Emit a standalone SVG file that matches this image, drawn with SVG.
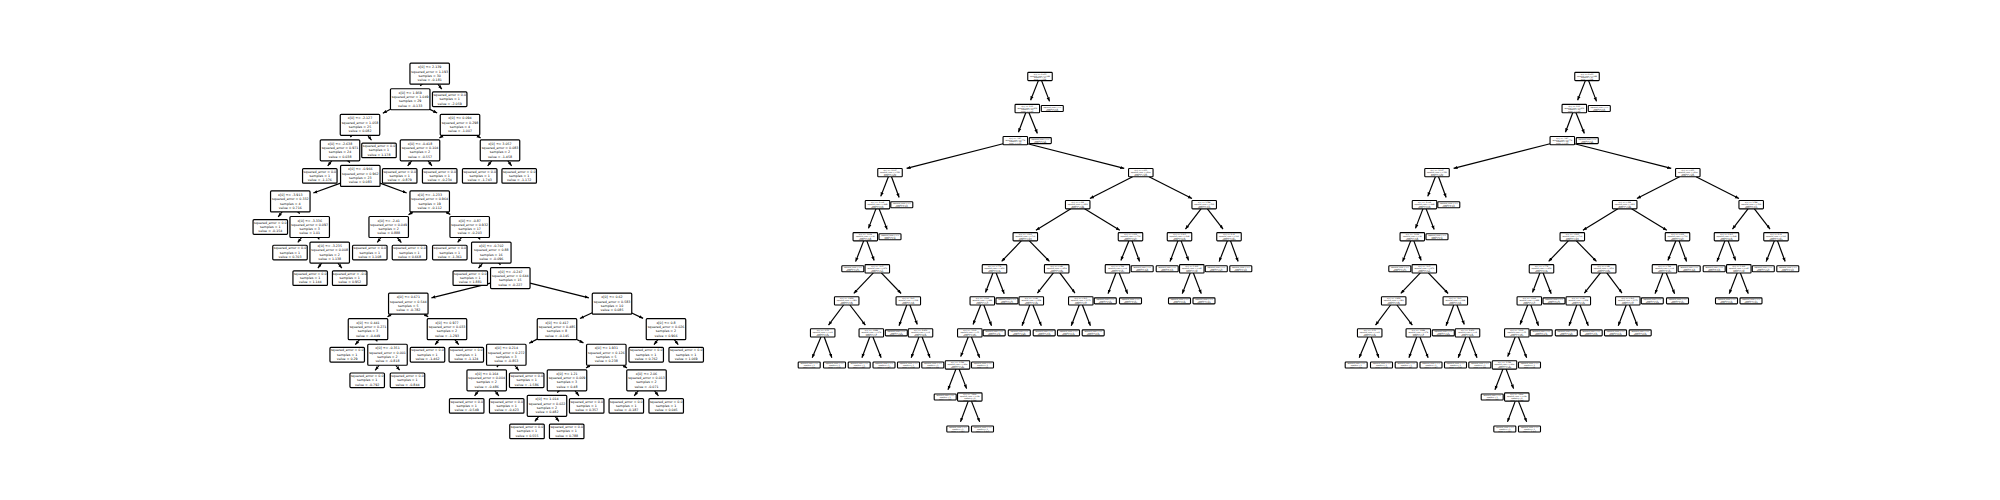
<svg xmlns="http://www.w3.org/2000/svg" xmlns:xlink="http://www.w3.org/1999/xlink" width="2000" height="500" viewBox="0 0 2000 500">
<defs>
<style>
.n text{font-family:"DejaVu Sans","Liberation Sans",sans-serif;font-size:3.25px;text-anchor:middle;dominant-baseline:central;fill:#000}
.s text{font-family:"DejaVu Sans","Liberation Sans",sans-serif;font-size:1.75px;text-anchor:middle;dominant-baseline:central;fill:#000}
.edges line{stroke:#000;stroke-width:1.2;fill:none;marker-end:url(#ah)}
</style>
<marker id="ah" viewBox="0 0 4 4" refX="4" refY="2" markerWidth="4" markerHeight="4" markerUnits="userSpaceOnUse" orient="auto"><path d="M0,0.4 L4,2 L0,3.6 z" fill="#000"/></marker>
<rect id="bi" x="-19.75" y="-10.5" width="39.5" height="21" rx="1" fill="#fff" stroke="#000" stroke-width="1.2"/>
<rect id="bl" x="-17.25" y="-7.3" width="34.5" height="14.6" rx="1" fill="#fff" stroke="#000" stroke-width="1.2"/>
<rect id="si" x="-12.25" y="-4.15" width="24.5" height="8.3" rx="0.8" fill="#fff" stroke="#000" stroke-width="1.1"/>
<rect id="sl" x="-11" y="-3" width="22" height="6" rx="0.8" fill="#fff" stroke="#000" stroke-width="1.1"/>
</defs>
<rect width="2000" height="500" fill="#fff"/>

<g id="tree1">
<g id="tree1-edges" class="edges">
<line x1="421.7" y1="84.2" x2="420.3" y2="85.96"/>
<line x1="437.9" y1="84.2" x2="441.8" y2="89.2"/>
<line x1="390.45" y1="109.29" x2="382.84" y2="113.17"/>
<line x1="429.95" y1="109.38" x2="437.14" y2="113.07"/>
<line x1="351.78" y1="135.3" x2="350.38" y2="137.09"/>
<line x1="367.81" y1="135.3" x2="371.48" y2="140.24"/>
<line x1="443.56" y1="135.3" x2="439.4" y2="137.96"/>
<line x1="476.44" y1="135.3" x2="480.6" y2="137.96"/>
<line x1="331.7" y1="160.85" x2="327.74" y2="165.85"/>
<line x1="348.34" y1="160.85" x2="349.78" y2="162.66"/>
<line x1="411.66" y1="160.85" x2="407.68" y2="165.86"/>
<line x1="428.1" y1="160.85" x2="431.93" y2="165.83"/>
<line x1="491.66" y1="160.85" x2="487.68" y2="165.86"/>
<line x1="507.89" y1="160.85" x2="511.61" y2="165.8"/>
<line x1="340.55" y1="183.11" x2="313.33" y2="193.04"/>
<line x1="380.05" y1="183.17" x2="406.66" y2="192.97"/>
<line x1="282.08" y1="211.95" x2="278.17" y2="216.94"/>
<line x1="298.27" y1="211.95" x2="299.61" y2="213.71"/>
<line x1="412.85" y1="211.95" x2="408.52" y2="214.65"/>
<line x1="446.14" y1="211.95" x2="450.3" y2="214.61"/>
<line x1="301.6" y1="237.5" x2="297.77" y2="242.48"/>
<line x1="317.92" y1="237.5" x2="319.32" y2="239.29"/>
<line x1="380.93" y1="237.5" x2="377.28" y2="242.44"/>
<line x1="397.25" y1="237.5" x2="401.35" y2="242.53"/>
<line x1="461.52" y1="237.5" x2="457.63" y2="242.49"/>
<line x1="478.58" y1="237.5" x2="480.16" y2="239.38"/>
<line x1="321.69" y1="263.05" x2="317.89" y2="268.02"/>
<line x1="337.92" y1="263.05" x2="341.83" y2="268.04"/>
<line x1="482.67" y1="263.05" x2="478.52" y2="268.1"/>
<line x1="499.11" y1="263.05" x2="500.4" y2="264.79"/>
<line x1="490.55" y1="283.05" x2="431.44" y2="297.85"/>
<line x1="530.05" y1="283.06" x2="588.85" y2="297.83"/>
<line x1="391.74" y1="314.15" x2="387.52" y2="316.82"/>
<line x1="424.21" y1="314.15" x2="428.17" y2="316.77"/>
<line x1="592.25" y1="312.82" x2="579.92" y2="318.55"/>
<line x1="631.75" y1="312.99" x2="643.1" y2="318.37"/>
<line x1="359.45" y1="339.7" x2="355.35" y2="344.73"/>
<line x1="376.01" y1="339.7" x2="377.36" y2="341.47"/>
<line x1="438.99" y1="339.7" x2="435.19" y2="344.67"/>
<line x1="454.93" y1="339.7" x2="458.68" y2="344.66"/>
<line x1="537.25" y1="339.15" x2="529.18" y2="343.22"/>
<line x1="576.75" y1="339.44" x2="583.44" y2="342.9"/>
<line x1="657.86" y1="339.7" x2="654" y2="344.68"/>
<line x1="674.3" y1="339.7" x2="678.26" y2="344.7"/>
<line x1="379.16" y1="365.25" x2="375.18" y2="370.26"/>
<line x1="395.72" y1="365.25" x2="399.63" y2="370.24"/>
<line x1="498.24" y1="365.25" x2="496.89" y2="367.02"/>
<line x1="514.68" y1="365.25" x2="518.69" y2="370.27"/>
<line x1="590.15" y1="365.25" x2="586.09" y2="367.89"/>
<line x1="622.82" y1="365.25" x2="627.02" y2="367.92"/>
<line x1="478.48" y1="390.8" x2="474.57" y2="395.79"/>
<line x1="494.92" y1="390.8" x2="498.83" y2="395.79"/>
<line x1="558.78" y1="390.8" x2="557.38" y2="392.59"/>
<line x1="575.1" y1="390.8" x2="578.93" y2="395.78"/>
<line x1="638.2" y1="390.8" x2="634.24" y2="395.8"/>
<line x1="654.6" y1="390.8" x2="658.43" y2="395.78"/>
<line x1="538.78" y1="416.35" x2="534.87" y2="421.34"/>
<line x1="555.1" y1="416.35" x2="558.93" y2="421.33"/>
</g>
<g id="t1-root" class="n" transform="translate(429.7 73.7)"><use href="#bi"/><text y="-6.45">x[0] &lt;= 2.139</text><text y="-2.15">squared_error = 1.193</text><text y="2.15">samples = 30</text><text y="6.45">value = -0.181</text></g>
<g id="t1-A" class="n" transform="translate(410.2 99.25)"><use href="#bi"/><text y="-6.45">x[0] &lt;= 1.959</text><text y="-2.15">squared_error = 1.049</text><text y="2.15">samples = 29</text><text y="6.45">value = -0.133</text></g>
<g id="t1-B" class="n" transform="translate(449.7 99.25)"><use href="#bl"/><text y="-4.3">squared_error = 0.0</text><text y="0">samples = 1</text><text y="4.3">value = -2.059</text></g>
<g id="t1-C" class="n" transform="translate(360 124.8)"><use href="#bi"/><text y="-6.45">x[0] &lt;= -2.127</text><text y="-2.15">squared_error = 1.058</text><text y="2.15">samples = 25</text><text y="6.45">value = 0.082</text></g>
<g id="t1-D" class="n" transform="translate(460 124.8)"><use href="#bi"/><text y="-6.45">x[0] &lt;= 0.094</text><text y="-2.15">squared_error = 0.298</text><text y="2.15">samples = 4</text><text y="6.45">value = -1.007</text></g>
<g id="t1-E" class="n" transform="translate(340 150.35)"><use href="#bi"/><text y="-6.45">x[0] &lt;= -2.638</text><text y="-2.15">squared_error = 0.971</text><text y="2.15">samples = 24</text><text y="6.45">value = 0.038</text></g>
<g id="t1-F" class="n" transform="translate(379 150.35)"><use href="#bl"/><text y="-4.3">squared_error = 0.0</text><text y="0">samples = 1</text><text y="4.3">value = 1.178</text></g>
<g id="t1-G" class="n" transform="translate(420 150.35)"><use href="#bi"/><text y="-6.45">x[0] &lt;= -0.418</text><text y="-2.15">squared_error = 0.104</text><text y="2.15">samples = 2</text><text y="6.45">value = -0.557</text></g>
<g id="t1-H" class="n" transform="translate(500 150.35)"><use href="#bi"/><text y="-6.45">x[0] &lt;= 3.057</text><text y="-2.15">squared_error = 0.083</text><text y="2.15">samples = 2</text><text y="6.45">value = -1.458</text></g>
<g id="t1-I" class="n" transform="translate(319.8 175.9)"><use href="#bl"/><text y="-4.3">squared_error = 0.0</text><text y="0">samples = 1</text><text y="4.3">value = -1.176</text></g>
<g id="t1-J" class="n" transform="translate(360.3 175.9)"><use href="#bi"/><text y="-6.45">x[0] &lt;= -0.966</text><text y="-2.15">squared_error = 0.962</text><text y="2.15">samples = 23</text><text y="6.45">value = 0.083</text></g>
<g id="t1-K" class="n" transform="translate(399.7 175.9)"><use href="#bl"/><text y="-4.3">squared_error = 0.0</text><text y="0">samples = 1</text><text y="4.3">value = -0.879</text></g>
<g id="t1-L" class="n" transform="translate(439.7 175.9)"><use href="#bl"/><text y="-4.3">squared_error = 0.0</text><text y="0">samples = 1</text><text y="4.3">value = -0.234</text></g>
<g id="t1-M" class="n" transform="translate(479.7 175.9)"><use href="#bl"/><text y="-4.3">squared_error = 0.0</text><text y="0">samples = 1</text><text y="4.3">value = -1.743</text></g>
<g id="t1-N" class="n" transform="translate(519.2 175.9)"><use href="#bl"/><text y="-4.3">squared_error = 0.0</text><text y="0">samples = 1</text><text y="4.3">value = -1.172</text></g>
<g id="t1-O" class="n" transform="translate(290.3 201.45)"><use href="#bi"/><text y="-6.45">x[0] &lt;= -3.913</text><text y="-2.15">squared_error = 0.332</text><text y="2.15">samples = 4</text><text y="6.45">value = 0.716</text></g>
<g id="t1-P" class="n" transform="translate(429.7 201.45)"><use href="#bi"/><text y="-6.45">x[0] &lt;= -1.233</text><text y="-2.15">squared_error = 0.964</text><text y="2.15">samples = 19</text><text y="6.45">value = -0.112</text></g>
<g id="t1-Q" class="n" transform="translate(270.3 227)"><use href="#bl"/><text y="-4.3">squared_error = 0.0</text><text y="0">samples = 1</text><text y="4.3">value = -0.154</text></g>
<g id="t1-R" class="n" transform="translate(309.7 227)"><use href="#bi"/><text y="-6.45">x[0] &lt;= -3.336</text><text y="-2.15">squared_error = 0.097</text><text y="2.15">samples = 3</text><text y="6.45">value = 1.01</text></g>
<g id="t1-S" class="n" transform="translate(388.7 227)"><use href="#bi"/><text y="-6.45">x[0] &lt;= -2.41</text><text y="-2.15">squared_error = 0.049</text><text y="2.15">samples = 2</text><text y="6.45">value = 0.888</text></g>
<g id="t1-T" class="n" transform="translate(469.7 227)"><use href="#bi"/><text y="-6.45">x[0] &lt;= -0.87</text><text y="-2.15">squared_error = 0.932</text><text y="2.15">samples = 17</text><text y="6.45">value = -0.203</text></g>
<g id="t1-U" class="n" transform="translate(290 252.55)"><use href="#bl"/><text y="-4.3">squared_error = 0.0</text><text y="0">samples = 1</text><text y="4.3">value = 0.703</text></g>
<g id="t1-V" class="n" transform="translate(329.7 252.55)"><use href="#bi"/><text y="-6.45">x[0] &lt;= -3.235</text><text y="-2.15">squared_error = 0.008</text><text y="2.15">samples = 2</text><text y="6.45">value = 1.138</text></g>
<g id="t1-W" class="n" transform="translate(369.8 252.55)"><use href="#bl"/><text y="-4.3">squared_error = 0.0</text><text y="0">samples = 1</text><text y="4.3">value = 1.108</text></g>
<g id="t1-X" class="n" transform="translate(409.5 252.55)"><use href="#bl"/><text y="-4.3">squared_error = 0.0</text><text y="0">samples = 1</text><text y="4.3">value = 0.668</text></g>
<g id="t1-Y" class="n" transform="translate(449.8 252.55)"><use href="#bl"/><text y="-4.3">squared_error = 0.0</text><text y="0">samples = 1</text><text y="4.3">value = -1.361</text></g>
<g id="t1-Z" class="n" transform="translate(491.3 252.55)"><use href="#bi"/><text y="-6.45">x[0] &lt;= -0.702</text><text y="-2.15">squared_error = 0.88</text><text y="2.15">samples = 16</text><text y="6.45">value = -0.096</text></g>
<g id="t1-AA" class="n" transform="translate(310.2 278.1)"><use href="#bl"/><text y="-4.3">squared_error = 0.0</text><text y="0">samples = 1</text><text y="4.3">value = 1.144</text></g>
<g id="t1-AB" class="n" transform="translate(349.7 278.1)"><use href="#bl"/><text y="-4.3">squared_error = -0.0</text><text y="0">samples = 1</text><text y="4.3">value = 0.952</text></g>
<g id="t1-AC" class="n" transform="translate(470.3 278.1)"><use href="#bl"/><text y="-4.3">squared_error = 0.0</text><text y="0">samples = 1</text><text y="4.3">value = 1.881</text></g>
<g id="t1-AD" class="n" transform="translate(510.3 278.1)"><use href="#bi"/><text y="-6.45">x[0] &lt;= -0.247</text><text y="-2.15">squared_error = 0.644</text><text y="2.15">samples = 15</text><text y="6.45">value = -0.227</text></g>
<g id="t1-AE" class="n" transform="translate(408.3 303.65)"><use href="#bi"/><text y="-6.45">x[0] &lt;= 0.671</text><text y="-2.15">squared_error = 0.544</text><text y="2.15">samples = 5</text><text y="6.45">value = -0.782</text></g>
<g id="t1-AF" class="n" transform="translate(612 303.65)"><use href="#bi"/><text y="-6.45">x[0] &lt;= 0.62</text><text y="-2.15">squared_error = 0.583</text><text y="2.15">samples = 10</text><text y="6.45">value = 0.085</text></g>
<g id="t1-AG" class="n" transform="translate(368 329.2)"><use href="#bi"/><text y="-6.45">x[0] &lt;= 0.441</text><text y="-2.15">squared_error = 0.271</text><text y="2.15">samples = 3</text><text y="6.45">value = -0.449</text></g>
<g id="t1-AH" class="n" transform="translate(447 329.2)"><use href="#bi"/><text y="-6.45">x[0] &lt;= 0.977</text><text y="-2.15">squared_error = 0.033</text><text y="2.15">samples = 2</text><text y="6.45">value = -1.293</text></g>
<g id="t1-AI" class="n" transform="translate(557 329.2)"><use href="#bi"/><text y="-6.45">x[0] &lt;= 0.417</text><text y="-2.15">squared_error = 0.485</text><text y="2.15">samples = 8</text><text y="6.45">value = -0.145</text></g>
<g id="t1-AJ" class="n" transform="translate(666 329.2)"><use href="#bi"/><text y="-6.45">x[0] &lt;= 0.8</text><text y="-2.15">squared_error = 0.026</text><text y="2.15">samples = 2</text><text y="6.45">value = 0.966</text></g>
<g id="t1-AK" class="n" transform="translate(347.2 354.75)"><use href="#bl"/><text y="-4.3">squared_error = 0.0</text><text y="0">samples = 1</text><text y="4.3">value = 0.29</text></g>
<g id="t1-AL" class="n" transform="translate(387.5 354.75)"><use href="#bi"/><text y="-6.45">x[0] &lt;= -0.351</text><text y="-2.15">squared_error = 0.001</text><text y="2.15">samples = 2</text><text y="6.45">value = -0.818</text></g>
<g id="t1-AM" class="n" transform="translate(427.5 354.75)"><use href="#bl"/><text y="-4.3">squared_error = 0.0</text><text y="0">samples = 1</text><text y="4.3">value = -1.462</text></g>
<g id="t1-AN" class="n" transform="translate(466.3 354.75)"><use href="#bl"/><text y="-4.3">squared_error = 0.0</text><text y="0">samples = 1</text><text y="4.3">value = -1.124</text></g>
<g id="t1-AO" class="n" transform="translate(506.3 354.75)"><use href="#bi"/><text y="-6.45">x[0] &lt;= 0.214</text><text y="-2.15">squared_error = 0.272</text><text y="2.15">samples = 3</text><text y="6.45">value = -0.853</text></g>
<g id="t1-AP" class="n" transform="translate(606.3 354.75)"><use href="#bi"/><text y="-6.45">x[0] &lt;= 1.931</text><text y="-2.15">squared_error = 0.126</text><text y="2.15">samples = 5</text><text y="6.45">value = 0.238</text></g>
<g id="t1-AQ" class="n" transform="translate(646.2 354.75)"><use href="#bl"/><text y="-4.3">squared_error = 0.0</text><text y="0">samples = 1</text><text y="4.3">value = 0.762</text></g>
<g id="t1-AR" class="n" transform="translate(686.2 354.75)"><use href="#bl"/><text y="-4.3">squared_error = 0.0</text><text y="0">samples = 1</text><text y="4.3">value = 1.069</text></g>
<g id="t1-AS" class="n" transform="translate(367.2 380.3)"><use href="#bl"/><text y="-4.3">squared_error = 0.0</text><text y="0">samples = 1</text><text y="4.3">value = -0.792</text></g>
<g id="t1-AT" class="n" transform="translate(407.5 380.3)"><use href="#bl"/><text y="-4.3">squared_error = 0.0</text><text y="0">samples = 1</text><text y="4.3">value = -0.844</text></g>
<g id="t1-AU" class="n" transform="translate(486.7 380.3)"><use href="#bi"/><text y="-6.45">x[0] &lt;= 0.164</text><text y="-2.15">squared_error = 0.004</text><text y="2.15">samples = 2</text><text y="6.45">value = -0.486</text></g>
<g id="t1-AV" class="n" transform="translate(526.7 380.3)"><use href="#bl"/><text y="-4.3">squared_error = 0.0</text><text y="0">samples = 1</text><text y="4.3">value = -1.586</text></g>
<g id="t1-AW" class="n" transform="translate(567 380.3)"><use href="#bi"/><text y="-6.45">x[0] &lt;= 1.21</text><text y="-2.15">squared_error = 0.009</text><text y="2.15">samples = 3</text><text y="6.45">value = 0.48</text></g>
<g id="t1-AX" class="n" transform="translate(646.5 380.3)"><use href="#bi"/><text y="-6.45">x[0] &lt;= 2.06</text><text y="-2.15">squared_error = 0.013</text><text y="2.15">samples = 2</text><text y="6.45">value = -0.071</text></g>
<g id="t1-AY" class="n" transform="translate(466.7 405.85)"><use href="#bl"/><text y="-4.3">squared_error = 0.0</text><text y="0">samples = 1</text><text y="4.3">value = -0.549</text></g>
<g id="t1-AZ" class="n" transform="translate(506.7 405.85)"><use href="#bl"/><text y="-4.3">squared_error = 0.0</text><text y="0">samples = 1</text><text y="4.3">value = -0.423</text></g>
<g id="t1-BA" class="n" transform="translate(547 405.85)"><use href="#bi"/><text y="-6.45">x[0] &lt;= 1.014</text><text y="-2.15">squared_error = 0.022</text><text y="2.15">samples = 2</text><text y="6.45">value = 0.482</text></g>
<g id="t1-BB" class="n" transform="translate(586.7 405.85)"><use href="#bl"/><text y="-4.3">squared_error = 0.0</text><text y="0">samples = 1</text><text y="4.3">value = 0.357</text></g>
<g id="t1-BC" class="n" transform="translate(626.3 405.85)"><use href="#bl"/><text y="-4.3">squared_error = 0.0</text><text y="0">samples = 1</text><text y="4.3">value = -0.187</text></g>
<g id="t1-BD" class="n" transform="translate(666.2 405.85)"><use href="#bl"/><text y="-4.3">squared_error = 0.0</text><text y="0">samples = 1</text><text y="4.3">value = 0.045</text></g>
<g id="t1-BE" class="n" transform="translate(527 431.4)"><use href="#bl"/><text y="-4.3">squared_error = 0.0</text><text y="0">samples = 1</text><text y="4.3">value = 0.555</text></g>
<g id="t1-BF" class="n" transform="translate(566.7 431.4)"><use href="#bl"/><text y="-4.3">squared_error = 0.0</text><text y="0">samples = 1</text><text y="4.3">value = 0.788</text></g>
</g>

<g id="tree2">
<g id="tree2-edges" class="edges">
<line x1="1038.36" y1="80.65" x2="1030.6" y2="100.22"/>
<line x1="1041.59" y1="80.65" x2="1049.54" y2="101.35"/>
<line x1="1025.75" y1="112.7" x2="1018.43" y2="132.24"/>
<line x1="1028.98" y1="112.7" x2="1037.39" y2="133.43"/>
<line x1="1003.05" y1="143.73" x2="906.61" y2="168.4"/>
<line x1="1027.55" y1="143.73" x2="1124.2" y2="168.41"/>
<line x1="888.38" y1="176.8" x2="880.75" y2="196.36"/>
<line x1="891.53" y1="176.8" x2="899.14" y2="197.48"/>
<line x1="1132.63" y1="176.8" x2="1089.88" y2="198.51"/>
<line x1="1149.01" y1="176.8" x2="1191.98" y2="198.52"/>
<line x1="875.92" y1="208.85" x2="868.48" y2="228.39"/>
<line x1="879.12" y1="208.85" x2="887.2" y2="229.56"/>
<line x1="1070.91" y1="208.85" x2="1035.93" y2="230.25"/>
<line x1="1084.54" y1="208.85" x2="1119.81" y2="230.26"/>
<line x1="1201" y1="208.85" x2="1185.45" y2="229.04"/>
<line x1="1207.41" y1="208.85" x2="1223.03" y2="229.04"/>
<line x1="863.68" y1="240.9" x2="855.6" y2="261.61"/>
<line x1="866.85" y1="240.9" x2="874.17" y2="260.44"/>
<line x1="1021.31" y1="240.9" x2="1001.61" y2="261.41"/>
<line x1="1029.37" y1="240.9" x2="1049.48" y2="261.43"/>
<line x1="1128.82" y1="240.9" x2="1120.87" y2="260.48"/>
<line x1="1132.02" y1="240.9" x2="1139.56" y2="261.57"/>
<line x1="1177.91" y1="240.9" x2="1169.96" y2="261.6"/>
<line x1="1181.09" y1="240.9" x2="1188.59" y2="260.45"/>
<line x1="1227.36" y1="240.9" x2="1219.15" y2="261.62"/>
<line x1="1230.53" y1="240.9" x2="1238.14" y2="261.58"/>
<line x1="873.34" y1="272.95" x2="853.77" y2="293.44"/>
<line x1="881.31" y1="272.95" x2="901.16" y2="293.47"/>
<line x1="992.92" y1="272.95" x2="985.48" y2="292.49"/>
<line x1="996.12" y1="272.95" x2="1004.2" y2="293.66"/>
<line x1="1053.41" y1="272.95" x2="1037.38" y2="293.17"/>
<line x1="1059.82" y1="272.95" x2="1074.97" y2="293.1"/>
<line x1="1115.92" y1="272.95" x2="1108.04" y2="293.65"/>
<line x1="1119.18" y1="272.95" x2="1127.59" y2="293.68"/>
<line x1="1190.21" y1="272.95" x2="1182.26" y2="293.65"/>
<line x1="1193.38" y1="272.95" x2="1201.26" y2="293.65"/>
<line x1="843.59" y1="305" x2="828.51" y2="325.15"/>
<line x1="849.89" y1="305" x2="865.37" y2="325.18"/>
<line x1="906.75" y1="305" x2="899" y2="325.69"/>
<line x1="909.88" y1="305" x2="917.32" y2="324.54"/>
<line x1="980.68" y1="305" x2="973.05" y2="324.56"/>
<line x1="983.84" y1="305" x2="991.52" y2="325.68"/>
<line x1="1029.75" y1="305" x2="1022" y2="325.69"/>
<line x1="1032.97" y1="305" x2="1041.31" y2="325.73"/>
<line x1="1079.21" y1="305" x2="1071.26" y2="325.7"/>
<line x1="1082.41" y1="305" x2="1090.42" y2="325.7"/>
<line x1="820.95" y1="337.05" x2="812.21" y2="357.8"/>
<line x1="824.23" y1="337.05" x2="831.84" y2="357.73"/>
<line x1="869.73" y1="337.05" x2="861.92" y2="357.74"/>
<line x1="872.94" y1="337.05" x2="881.15" y2="357.77"/>
<line x1="918.95" y1="337.05" x2="911.2" y2="357.74"/>
<line x1="922.09" y1="337.05" x2="930.04" y2="357.75"/>
<line x1="968.21" y1="337.05" x2="960.71" y2="356.6"/>
<line x1="971.44" y1="337.05" x2="979.65" y2="357.77"/>
<line x1="955.91" y1="369.1" x2="947.96" y2="389.8"/>
<line x1="959.09" y1="369.1" x2="966.59" y2="388.65"/>
<line x1="968.25" y1="401.15" x2="960.5" y2="421.84"/>
<line x1="971.44" y1="401.15" x2="979.65" y2="421.87"/>
</g>
<g id="t2-n0" class="s" transform="translate(1040 76.5)"><use href="#si"/><text y="-2.55">x[0] &lt;= 2.655</text><text y="-0.85">squared_error = 0.988</text><text y="0.85">samples = 30</text><text y="2.55">value = 0.124</text></g>
<g id="t2-n1" class="s" transform="translate(1027.3 108.55)"><use href="#si"/><text y="-2.55">x[0] &lt;= 2.31</text><text y="-0.85">squared_error = 0.852</text><text y="0.85">samples = 29</text><text y="2.55">value = 0.061</text></g>
<g id="t2-n2" class="s" transform="translate(1052.3 108.55)"><use href="#sl"/><text y="-1.6">squared_error = 0.0</text><text y="0">samples = 1</text><text y="1.6">value = 1.951</text></g>
<g id="t2-n3" class="s" transform="translate(1015.3 140.6)"><use href="#si"/><text y="-2.55">x[0] &lt;= -1.87</text><text y="-0.85">squared_error = 0.774</text><text y="0.85">samples = 28</text><text y="2.55">value = 0.015</text></g>
<g id="t2-n4" class="s" transform="translate(1040.3 140.6)"><use href="#sl"/><text y="-1.6">squared_error = 0.0</text><text y="0">samples = 1</text><text y="1.6">value = 1.346</text></g>
<g id="t2-n5" class="s" transform="translate(890 172.65)"><use href="#si"/><text y="-2.55">x[0] &lt;= -2.937</text><text y="-0.85">squared_error = 0.521</text><text y="0.85">samples = 10</text><text y="2.55">value = 0.412</text></g>
<g id="t2-n6" class="s" transform="translate(1140.8 172.65)"><use href="#si"/><text y="-2.55">x[0] &lt;= 0.955</text><text y="-0.85">squared_error = 0.806</text><text y="0.85">samples = 18</text><text y="2.55">value = -0.206</text></g>
<g id="t2-n7" class="s" transform="translate(877.5 204.7)"><use href="#si"/><text y="-2.55">x[0] &lt;= -2.062</text><text y="-0.85">squared_error = 0.448</text><text y="0.85">samples = 9</text><text y="2.55">value = 0.335</text></g>
<g id="t2-n8" class="s" transform="translate(901.8 204.7)"><use href="#sl"/><text y="-1.6">squared_error = 0.0</text><text y="0">samples = 1</text><text y="1.6">value = 1.105</text></g>
<g id="t2-n9" class="s" transform="translate(1077.7 204.7)"><use href="#si"/><text y="-2.55">x[0] &lt;= 0.318</text><text y="-0.85">squared_error = 0.812</text><text y="0.85">samples = 13</text><text y="2.55">value = -0.344</text></g>
<g id="t2-n10" class="s" transform="translate(1204.2 204.7)"><use href="#si"/><text y="-2.55">x[0] &lt;= 1.584</text><text y="-0.85">squared_error = 0.512</text><text y="0.85">samples = 5</text><text y="2.55">value = 0.153</text></g>
<g id="t2-n11" class="s" transform="translate(865.3 236.75)"><use href="#si"/><text y="-2.55">x[0] &lt;= -3.614</text><text y="-0.85">squared_error = 0.39</text><text y="0.85">samples = 8</text><text y="2.55">value = 0.232</text></g>
<g id="t2-n12" class="s" transform="translate(890 236.75)"><use href="#sl"/><text y="-1.6">squared_error = 0.0</text><text y="0">samples = 1</text><text y="1.6">value = 1.16</text></g>
<g id="t2-n13" class="s" transform="translate(1025.3 236.75)"><use href="#si"/><text y="-2.55">x[0] &lt;= -0.205</text><text y="-0.85">squared_error = 0.703</text><text y="0.85">samples = 10</text><text y="2.55">value = -0.205</text></g>
<g id="t2-n14" class="s" transform="translate(1130.5 236.75)"><use href="#si"/><text y="-2.55">x[0] &lt;= 0.612</text><text y="-0.85">squared_error = 0.713</text><text y="0.85">samples = 3</text><text y="2.55">value = -0.807</text></g>
<g id="t2-n15" class="s" transform="translate(1179.5 236.75)"><use href="#si"/><text y="-2.55">x[0] &lt;= 1.205</text><text y="-0.85">squared_error = 0.268</text><text y="0.85">samples = 3</text><text y="2.55">value = 0.452</text></g>
<g id="t2-n16" class="s" transform="translate(1229 236.75)"><use href="#si"/><text y="-2.55">x[0] &lt;= 2.02</text><text y="-0.85">squared_error = 0.161</text><text y="0.85">samples = 2</text><text y="2.55">value = -0.296</text></g>
<g id="t2-n17" class="s" transform="translate(852.8 268.8)"><use href="#sl"/><text y="-1.6">squared_error = 0.0</text><text y="0">samples = 1</text><text y="1.6">value = -0.671</text></g>
<g id="t2-n18" class="s" transform="translate(877.3 268.8)"><use href="#si"/><text y="-2.55">x[0] &lt;= -3.05</text><text y="-0.85">squared_error = 0.279</text><text y="0.85">samples = 7</text><text y="2.55">value = 0.361</text></g>
<g id="t2-n19" class="s" transform="translate(994.5 268.8)"><use href="#si"/><text y="-2.55">x[0] &lt;= -0.778</text><text y="-0.85">squared_error = 0.453</text><text y="0.85">samples = 6</text><text y="2.55">value = 0.054</text></g>
<g id="t2-n20" class="s" transform="translate(1056.7 268.8)"><use href="#si"/><text y="-2.55">x[0] &lt;= 0.089</text><text y="-0.85">squared_error = 0.874</text><text y="0.85">samples = 4</text><text y="2.55">value = -0.594</text></g>
<g id="t2-n21" class="s" transform="translate(1117.5 268.8)"><use href="#si"/><text y="-2.55">x[0] &lt;= 0.784</text><text y="-0.85">squared_error = 0.04</text><text y="0.85">samples = 2</text><text y="2.55">value = -1.333</text></g>
<g id="t2-n22" class="s" transform="translate(1142.2 268.8)"><use href="#sl"/><text y="-1.6">squared_error = 0.0</text><text y="0">samples = 1</text><text y="1.6">value = 0.245</text></g>
<g id="t2-n23" class="s" transform="translate(1167.2 268.8)"><use href="#sl"/><text y="-1.6">squared_error = 0.0</text><text y="0">samples = 1</text><text y="1.6">value = 1.115</text></g>
<g id="t2-n24" class="s" transform="translate(1191.8 268.8)"><use href="#si"/><text y="-2.55">x[0] &lt;= 1.392</text><text y="-0.85">squared_error = 0.045</text><text y="0.85">samples = 2</text><text y="2.55">value = 0.12</text></g>
<g id="t2-n25" class="s" transform="translate(1216.3 268.8)"><use href="#sl"/><text y="-1.6">squared_error = 0.0</text><text y="0">samples = 1</text><text y="1.6">value = -0.697</text></g>
<g id="t2-n26" class="s" transform="translate(1240.8 268.8)"><use href="#sl"/><text y="-1.6">squared_error = 0.0</text><text y="0">samples = 1</text><text y="1.6">value = 0.105</text></g>
<g id="t2-n27" class="s" transform="translate(846.7 300.85)"><use href="#si"/><text y="-2.55">x[0] &lt;= -3.418</text><text y="-0.85">squared_error = 0.283</text><text y="0.85">samples = 4</text><text y="2.55">value = 0.512</text></g>
<g id="t2-n28" class="s" transform="translate(908.3 300.85)"><use href="#si"/><text y="-2.55">x[0] &lt;= -2.61</text><text y="-0.85">squared_error = 0.198</text><text y="0.85">samples = 3</text><text y="2.55">value = 0.159</text></g>
<g id="t2-n29" class="s" transform="translate(982.3 300.85)"><use href="#si"/><text y="-2.55">x[0] &lt;= -0.963</text><text y="-0.85">squared_error = 0.482</text><text y="0.85">samples = 5</text><text y="2.55">value = -0.07</text></g>
<g id="t2-n30" class="s" transform="translate(1007 300.85)"><use href="#sl"/><text y="-1.6">squared_error = 0.0</text><text y="0">samples = 1</text><text y="1.6">value = 0.675</text></g>
<g id="t2-n31" class="s" transform="translate(1031.3 300.85)"><use href="#si"/><text y="-2.55">x[0] &lt;= -0.049</text><text y="-0.85">squared_error = 0.218</text><text y="0.85">samples = 2</text><text y="2.55">value = -1.018</text></g>
<g id="t2-n32" class="s" transform="translate(1080.8 300.85)"><use href="#si"/><text y="-2.55">x[0] &lt;= 0.201</text><text y="-0.85">squared_error = 1.171</text><text y="0.85">samples = 2</text><text y="2.55">value = -0.17</text></g>
<g id="t2-n33" class="s" transform="translate(1105.3 300.85)"><use href="#sl"/><text y="-1.6">squared_error = 0.0</text><text y="0">samples = 1</text><text y="1.6">value = -1.534</text></g>
<g id="t2-n34" class="s" transform="translate(1130.5 300.85)"><use href="#sl"/><text y="-1.6">squared_error = 0.0</text><text y="0">samples = 1</text><text y="1.6">value = -1.133</text></g>
<g id="t2-n35" class="s" transform="translate(1179.5 300.85)"><use href="#sl"/><text y="-1.6">squared_error = 0.0</text><text y="0">samples = 1</text><text y="1.6">value = 0.332</text></g>
<g id="t2-n36" class="s" transform="translate(1204 300.85)"><use href="#sl"/><text y="-1.6">squared_error = 0.0</text><text y="0">samples = 1</text><text y="1.6">value = -0.092</text></g>
<g id="t2-n37" class="s" transform="translate(822.7 332.9)"><use href="#si"/><text y="-2.55">x[0] &lt;= -3.51</text><text y="-0.85">squared_error = 0.002</text><text y="0.85">samples = 2</text><text y="2.55">value = 0.954</text></g>
<g id="t2-n38" class="s" transform="translate(871.3 332.9)"><use href="#si"/><text y="-2.55">x[0] &lt;= -3.284</text><text y="-0.85">squared_error = 0.174</text><text y="0.85">samples = 2</text><text y="2.55">value = 0.07</text></g>
<g id="t2-n39" class="s" transform="translate(896.3 332.9)"><use href="#sl"/><text y="-1.6">squared_error = 0.0</text><text y="0">samples = 1</text><text y="1.6">value = -0.434</text></g>
<g id="t2-n40" class="s" transform="translate(920.5 332.9)"><use href="#si"/><text y="-2.55">x[0] &lt;= -2.453</text><text y="-0.85">squared_error = 0.02</text><text y="0.85">samples = 2</text><text y="2.55">value = 0.456</text></g>
<g id="t2-n41" class="s" transform="translate(969.8 332.9)"><use href="#si"/><text y="-2.55">x[0] &lt;= -1.301</text><text y="-0.85">squared_error = 0.55</text><text y="0.85">samples = 4</text><text y="2.55">value = -0.256</text></g>
<g id="t2-n42" class="s" transform="translate(994.2 332.9)"><use href="#sl"/><text y="-1.6">squared_error = 0.0</text><text y="0">samples = 1</text><text y="1.6">value = 0.674</text></g>
<g id="t2-n43" class="s" transform="translate(1019.3 332.9)"><use href="#sl"/><text y="-1.6">squared_error = 0.0</text><text y="0">samples = 1</text><text y="1.6">value = -1.485</text></g>
<g id="t2-n44" class="s" transform="translate(1044.2 332.9)"><use href="#sl"/><text y="-1.6">squared_error = 0.0</text><text y="0">samples = 1</text><text y="1.6">value = -0.551</text></g>
<g id="t2-n45" class="s" transform="translate(1068.5 332.9)"><use href="#sl"/><text y="-1.6">squared_error = 0.0</text><text y="0">samples = 1</text><text y="1.6">value = 0.912</text></g>
<g id="t2-n46" class="s" transform="translate(1093.2 332.9)"><use href="#sl"/><text y="-1.6">squared_error = 0.0</text><text y="0">samples = 1</text><text y="1.6">value = -1.252</text></g>
<g id="t2-n47" class="s" transform="translate(809.2 364.95)"><use href="#sl"/><text y="-1.6">squared_error = 0.0</text><text y="0">samples = 1</text><text y="1.6">value = 0.996</text></g>
<g id="t2-n48" class="s" transform="translate(834.5 364.95)"><use href="#sl"/><text y="-1.6">squared_error = 0.0</text><text y="0">samples = 1</text><text y="1.6">value = 0.912</text></g>
<g id="t2-n49" class="s" transform="translate(859.2 364.95)"><use href="#sl"/><text y="-1.6">squared_error = 0.0</text><text y="0">samples = 1</text><text y="1.6">value = 0.487</text></g>
<g id="t2-n50" class="s" transform="translate(884 364.95)"><use href="#sl"/><text y="-1.6">squared_error = 0.0</text><text y="0">samples = 1</text><text y="1.6">value = -0.347</text></g>
<g id="t2-n51" class="s" transform="translate(908.5 364.95)"><use href="#sl"/><text y="-1.6">squared_error = 0.0</text><text y="0">samples = 1</text><text y="1.6">value = 0.598</text></g>
<g id="t2-n52" class="s" transform="translate(932.8 364.95)"><use href="#sl"/><text y="-1.6">squared_error = 0.0</text><text y="0">samples = 1</text><text y="1.6">value = 0.314</text></g>
<g id="t2-n53" class="s" transform="translate(957.5 364.95)"><use href="#si"/><text y="-2.55">x[0] &lt;= -1.589</text><text y="-0.85">squared_error = 0.496</text><text y="0.85">samples = 3</text><text y="2.55">value = -0.648</text></g>
<g id="t2-n54" class="s" transform="translate(982.5 364.95)"><use href="#sl"/><text y="-1.6">squared_error = 0.0</text><text y="0">samples = 1</text><text y="1.6">value = 0.92</text></g>
<g id="t2-n55" class="s" transform="translate(945.2 397)"><use href="#sl"/><text y="-1.6">squared_error = 0.0</text><text y="0">samples = 1</text><text y="1.6">value = 0.343</text></g>
<g id="t2-n56" class="s" transform="translate(969.8 397)"><use href="#si"/><text y="-2.55">x[0] &lt;= -1.466</text><text y="-0.85">squared_error = 0.026</text><text y="0.85">samples = 2</text><text y="2.55">value = -1.144</text></g>
<g id="t2-n57" class="s" transform="translate(957.8 429.05)"><use href="#sl"/><text y="-1.6">squared_error = 0.0</text><text y="0">samples = 1</text><text y="1.6">value = -0.983</text></g>
<g id="t2-n58" class="s" transform="translate(982.5 429.05)"><use href="#sl"/><text y="-1.6">squared_error = 0.0</text><text y="0">samples = 1</text><text y="1.6">value = -1.305</text></g>
</g>

<g id="tree3" transform="translate(547 0)">
<g id="tree3-edges" class="edges">
<line x1="1038.36" y1="80.65" x2="1030.6" y2="100.22"/>
<line x1="1041.59" y1="80.65" x2="1049.54" y2="101.35"/>
<line x1="1025.75" y1="112.7" x2="1018.43" y2="132.24"/>
<line x1="1028.98" y1="112.7" x2="1037.39" y2="133.43"/>
<line x1="1003.05" y1="143.73" x2="906.61" y2="168.4"/>
<line x1="1027.55" y1="143.73" x2="1124.2" y2="168.41"/>
<line x1="888.38" y1="176.8" x2="880.75" y2="196.36"/>
<line x1="891.53" y1="176.8" x2="899.14" y2="197.48"/>
<line x1="1132.63" y1="176.8" x2="1089.88" y2="198.51"/>
<line x1="1149.01" y1="176.8" x2="1191.98" y2="198.52"/>
<line x1="875.92" y1="208.85" x2="868.48" y2="228.39"/>
<line x1="879.12" y1="208.85" x2="887.2" y2="229.56"/>
<line x1="1070.91" y1="208.85" x2="1035.93" y2="230.25"/>
<line x1="1084.54" y1="208.85" x2="1119.81" y2="230.26"/>
<line x1="1201" y1="208.85" x2="1185.45" y2="229.04"/>
<line x1="1207.41" y1="208.85" x2="1223.03" y2="229.04"/>
<line x1="863.68" y1="240.9" x2="855.6" y2="261.61"/>
<line x1="866.85" y1="240.9" x2="874.17" y2="260.44"/>
<line x1="1021.31" y1="240.9" x2="1001.61" y2="261.41"/>
<line x1="1029.37" y1="240.9" x2="1049.48" y2="261.43"/>
<line x1="1128.82" y1="240.9" x2="1120.87" y2="260.48"/>
<line x1="1132.02" y1="240.9" x2="1139.56" y2="261.57"/>
<line x1="1177.91" y1="240.9" x2="1169.96" y2="261.6"/>
<line x1="1181.09" y1="240.9" x2="1188.59" y2="260.45"/>
<line x1="1227.36" y1="240.9" x2="1219.15" y2="261.62"/>
<line x1="1230.53" y1="240.9" x2="1238.14" y2="261.58"/>
<line x1="873.34" y1="272.95" x2="853.77" y2="293.44"/>
<line x1="881.31" y1="272.95" x2="901.16" y2="293.47"/>
<line x1="992.92" y1="272.95" x2="985.48" y2="292.49"/>
<line x1="996.12" y1="272.95" x2="1004.2" y2="293.66"/>
<line x1="1053.41" y1="272.95" x2="1037.38" y2="293.17"/>
<line x1="1059.82" y1="272.95" x2="1074.97" y2="293.1"/>
<line x1="1115.92" y1="272.95" x2="1108.04" y2="293.65"/>
<line x1="1119.18" y1="272.95" x2="1127.59" y2="293.68"/>
<line x1="1190.21" y1="272.95" x2="1182.26" y2="293.65"/>
<line x1="1193.38" y1="272.95" x2="1201.26" y2="293.65"/>
<line x1="843.59" y1="305" x2="828.51" y2="325.15"/>
<line x1="849.89" y1="305" x2="865.37" y2="325.18"/>
<line x1="906.75" y1="305" x2="899" y2="325.69"/>
<line x1="909.88" y1="305" x2="917.32" y2="324.54"/>
<line x1="980.68" y1="305" x2="973.05" y2="324.56"/>
<line x1="983.84" y1="305" x2="991.52" y2="325.68"/>
<line x1="1029.75" y1="305" x2="1022" y2="325.69"/>
<line x1="1032.97" y1="305" x2="1041.31" y2="325.73"/>
<line x1="1079.21" y1="305" x2="1071.26" y2="325.7"/>
<line x1="1082.41" y1="305" x2="1090.42" y2="325.7"/>
<line x1="820.95" y1="337.05" x2="812.21" y2="357.8"/>
<line x1="824.23" y1="337.05" x2="831.84" y2="357.73"/>
<line x1="869.73" y1="337.05" x2="861.92" y2="357.74"/>
<line x1="872.94" y1="337.05" x2="881.15" y2="357.77"/>
<line x1="918.95" y1="337.05" x2="911.2" y2="357.74"/>
<line x1="922.09" y1="337.05" x2="930.04" y2="357.75"/>
<line x1="968.21" y1="337.05" x2="960.71" y2="356.6"/>
<line x1="971.44" y1="337.05" x2="979.65" y2="357.77"/>
<line x1="955.91" y1="369.1" x2="947.96" y2="389.8"/>
<line x1="959.09" y1="369.1" x2="966.59" y2="388.65"/>
<line x1="968.25" y1="401.15" x2="960.5" y2="421.84"/>
<line x1="971.44" y1="401.15" x2="979.65" y2="421.87"/>
</g>
<g id="t3-n0" class="s" transform="translate(1040 76.5)"><use href="#si"/><text y="-2.55">x[0] &lt;= 2.655</text><text y="-0.85">squared_error = 0.988</text><text y="0.85">samples = 30</text><text y="2.55">value = 0.124</text></g>
<g id="t3-n1" class="s" transform="translate(1027.3 108.55)"><use href="#si"/><text y="-2.55">x[0] &lt;= 2.31</text><text y="-0.85">squared_error = 0.852</text><text y="0.85">samples = 29</text><text y="2.55">value = 0.061</text></g>
<g id="t3-n2" class="s" transform="translate(1052.3 108.55)"><use href="#sl"/><text y="-1.6">squared_error = 0.0</text><text y="0">samples = 1</text><text y="1.6">value = 1.951</text></g>
<g id="t3-n3" class="s" transform="translate(1015.3 140.6)"><use href="#si"/><text y="-2.55">x[0] &lt;= -1.87</text><text y="-0.85">squared_error = 0.774</text><text y="0.85">samples = 28</text><text y="2.55">value = 0.015</text></g>
<g id="t3-n4" class="s" transform="translate(1040.3 140.6)"><use href="#sl"/><text y="-1.6">squared_error = 0.0</text><text y="0">samples = 1</text><text y="1.6">value = 1.346</text></g>
<g id="t3-n5" class="s" transform="translate(890 172.65)"><use href="#si"/><text y="-2.55">x[0] &lt;= -2.937</text><text y="-0.85">squared_error = 0.521</text><text y="0.85">samples = 10</text><text y="2.55">value = 0.412</text></g>
<g id="t3-n6" class="s" transform="translate(1140.8 172.65)"><use href="#si"/><text y="-2.55">x[0] &lt;= 0.955</text><text y="-0.85">squared_error = 0.806</text><text y="0.85">samples = 18</text><text y="2.55">value = -0.206</text></g>
<g id="t3-n7" class="s" transform="translate(877.5 204.7)"><use href="#si"/><text y="-2.55">x[0] &lt;= -2.062</text><text y="-0.85">squared_error = 0.448</text><text y="0.85">samples = 9</text><text y="2.55">value = 0.335</text></g>
<g id="t3-n8" class="s" transform="translate(901.8 204.7)"><use href="#sl"/><text y="-1.6">squared_error = 0.0</text><text y="0">samples = 1</text><text y="1.6">value = 1.105</text></g>
<g id="t3-n9" class="s" transform="translate(1077.7 204.7)"><use href="#si"/><text y="-2.55">x[0] &lt;= 0.318</text><text y="-0.85">squared_error = 0.812</text><text y="0.85">samples = 13</text><text y="2.55">value = -0.344</text></g>
<g id="t3-n10" class="s" transform="translate(1204.2 204.7)"><use href="#si"/><text y="-2.55">x[0] &lt;= 1.584</text><text y="-0.85">squared_error = 0.512</text><text y="0.85">samples = 5</text><text y="2.55">value = 0.153</text></g>
<g id="t3-n11" class="s" transform="translate(865.3 236.75)"><use href="#si"/><text y="-2.55">x[0] &lt;= -3.614</text><text y="-0.85">squared_error = 0.39</text><text y="0.85">samples = 8</text><text y="2.55">value = 0.232</text></g>
<g id="t3-n12" class="s" transform="translate(890 236.75)"><use href="#sl"/><text y="-1.6">squared_error = 0.0</text><text y="0">samples = 1</text><text y="1.6">value = 1.16</text></g>
<g id="t3-n13" class="s" transform="translate(1025.3 236.75)"><use href="#si"/><text y="-2.55">x[0] &lt;= -0.205</text><text y="-0.85">squared_error = 0.703</text><text y="0.85">samples = 10</text><text y="2.55">value = -0.205</text></g>
<g id="t3-n14" class="s" transform="translate(1130.5 236.75)"><use href="#si"/><text y="-2.55">x[0] &lt;= 0.612</text><text y="-0.85">squared_error = 0.713</text><text y="0.85">samples = 3</text><text y="2.55">value = -0.807</text></g>
<g id="t3-n15" class="s" transform="translate(1179.5 236.75)"><use href="#si"/><text y="-2.55">x[0] &lt;= 1.205</text><text y="-0.85">squared_error = 0.268</text><text y="0.85">samples = 3</text><text y="2.55">value = 0.452</text></g>
<g id="t3-n16" class="s" transform="translate(1229 236.75)"><use href="#si"/><text y="-2.55">x[0] &lt;= 2.02</text><text y="-0.85">squared_error = 0.161</text><text y="0.85">samples = 2</text><text y="2.55">value = -0.296</text></g>
<g id="t3-n17" class="s" transform="translate(852.8 268.8)"><use href="#sl"/><text y="-1.6">squared_error = 0.0</text><text y="0">samples = 1</text><text y="1.6">value = -0.671</text></g>
<g id="t3-n18" class="s" transform="translate(877.3 268.8)"><use href="#si"/><text y="-2.55">x[0] &lt;= -3.05</text><text y="-0.85">squared_error = 0.279</text><text y="0.85">samples = 7</text><text y="2.55">value = 0.361</text></g>
<g id="t3-n19" class="s" transform="translate(994.5 268.8)"><use href="#si"/><text y="-2.55">x[0] &lt;= -0.778</text><text y="-0.85">squared_error = 0.453</text><text y="0.85">samples = 6</text><text y="2.55">value = 0.054</text></g>
<g id="t3-n20" class="s" transform="translate(1056.7 268.8)"><use href="#si"/><text y="-2.55">x[0] &lt;= 0.089</text><text y="-0.85">squared_error = 0.874</text><text y="0.85">samples = 4</text><text y="2.55">value = -0.594</text></g>
<g id="t3-n21" class="s" transform="translate(1117.5 268.8)"><use href="#si"/><text y="-2.55">x[0] &lt;= 0.784</text><text y="-0.85">squared_error = 0.04</text><text y="0.85">samples = 2</text><text y="2.55">value = -1.333</text></g>
<g id="t3-n22" class="s" transform="translate(1142.2 268.8)"><use href="#sl"/><text y="-1.6">squared_error = 0.0</text><text y="0">samples = 1</text><text y="1.6">value = 0.245</text></g>
<g id="t3-n23" class="s" transform="translate(1167.2 268.8)"><use href="#sl"/><text y="-1.6">squared_error = 0.0</text><text y="0">samples = 1</text><text y="1.6">value = 1.115</text></g>
<g id="t3-n24" class="s" transform="translate(1191.8 268.8)"><use href="#si"/><text y="-2.55">x[0] &lt;= 1.392</text><text y="-0.85">squared_error = 0.045</text><text y="0.85">samples = 2</text><text y="2.55">value = 0.12</text></g>
<g id="t3-n25" class="s" transform="translate(1216.3 268.8)"><use href="#sl"/><text y="-1.6">squared_error = 0.0</text><text y="0">samples = 1</text><text y="1.6">value = -0.697</text></g>
<g id="t3-n26" class="s" transform="translate(1240.8 268.8)"><use href="#sl"/><text y="-1.6">squared_error = 0.0</text><text y="0">samples = 1</text><text y="1.6">value = 0.105</text></g>
<g id="t3-n27" class="s" transform="translate(846.7 300.85)"><use href="#si"/><text y="-2.55">x[0] &lt;= -3.418</text><text y="-0.85">squared_error = 0.283</text><text y="0.85">samples = 4</text><text y="2.55">value = 0.512</text></g>
<g id="t3-n28" class="s" transform="translate(908.3 300.85)"><use href="#si"/><text y="-2.55">x[0] &lt;= -2.61</text><text y="-0.85">squared_error = 0.198</text><text y="0.85">samples = 3</text><text y="2.55">value = 0.159</text></g>
<g id="t3-n29" class="s" transform="translate(982.3 300.85)"><use href="#si"/><text y="-2.55">x[0] &lt;= -0.963</text><text y="-0.85">squared_error = 0.482</text><text y="0.85">samples = 5</text><text y="2.55">value = -0.07</text></g>
<g id="t3-n30" class="s" transform="translate(1007 300.85)"><use href="#sl"/><text y="-1.6">squared_error = 0.0</text><text y="0">samples = 1</text><text y="1.6">value = 0.675</text></g>
<g id="t3-n31" class="s" transform="translate(1031.3 300.85)"><use href="#si"/><text y="-2.55">x[0] &lt;= -0.049</text><text y="-0.85">squared_error = 0.218</text><text y="0.85">samples = 2</text><text y="2.55">value = -1.018</text></g>
<g id="t3-n32" class="s" transform="translate(1080.8 300.85)"><use href="#si"/><text y="-2.55">x[0] &lt;= 0.201</text><text y="-0.85">squared_error = 1.171</text><text y="0.85">samples = 2</text><text y="2.55">value = -0.17</text></g>
<g id="t3-n33" class="s" transform="translate(1105.3 300.85)"><use href="#sl"/><text y="-1.6">squared_error = 0.0</text><text y="0">samples = 1</text><text y="1.6">value = -1.534</text></g>
<g id="t3-n34" class="s" transform="translate(1130.5 300.85)"><use href="#sl"/><text y="-1.6">squared_error = 0.0</text><text y="0">samples = 1</text><text y="1.6">value = -1.133</text></g>
<g id="t3-n35" class="s" transform="translate(1179.5 300.85)"><use href="#sl"/><text y="-1.6">squared_error = 0.0</text><text y="0">samples = 1</text><text y="1.6">value = 0.332</text></g>
<g id="t3-n36" class="s" transform="translate(1204 300.85)"><use href="#sl"/><text y="-1.6">squared_error = 0.0</text><text y="0">samples = 1</text><text y="1.6">value = -0.092</text></g>
<g id="t3-n37" class="s" transform="translate(822.7 332.9)"><use href="#si"/><text y="-2.55">x[0] &lt;= -3.51</text><text y="-0.85">squared_error = 0.002</text><text y="0.85">samples = 2</text><text y="2.55">value = 0.954</text></g>
<g id="t3-n38" class="s" transform="translate(871.3 332.9)"><use href="#si"/><text y="-2.55">x[0] &lt;= -3.284</text><text y="-0.85">squared_error = 0.174</text><text y="0.85">samples = 2</text><text y="2.55">value = 0.07</text></g>
<g id="t3-n39" class="s" transform="translate(896.3 332.9)"><use href="#sl"/><text y="-1.6">squared_error = 0.0</text><text y="0">samples = 1</text><text y="1.6">value = -0.434</text></g>
<g id="t3-n40" class="s" transform="translate(920.5 332.9)"><use href="#si"/><text y="-2.55">x[0] &lt;= -2.453</text><text y="-0.85">squared_error = 0.02</text><text y="0.85">samples = 2</text><text y="2.55">value = 0.456</text></g>
<g id="t3-n41" class="s" transform="translate(969.8 332.9)"><use href="#si"/><text y="-2.55">x[0] &lt;= -1.301</text><text y="-0.85">squared_error = 0.55</text><text y="0.85">samples = 4</text><text y="2.55">value = -0.256</text></g>
<g id="t3-n42" class="s" transform="translate(994.2 332.9)"><use href="#sl"/><text y="-1.6">squared_error = 0.0</text><text y="0">samples = 1</text><text y="1.6">value = 0.674</text></g>
<g id="t3-n43" class="s" transform="translate(1019.3 332.9)"><use href="#sl"/><text y="-1.6">squared_error = 0.0</text><text y="0">samples = 1</text><text y="1.6">value = -1.485</text></g>
<g id="t3-n44" class="s" transform="translate(1044.2 332.9)"><use href="#sl"/><text y="-1.6">squared_error = 0.0</text><text y="0">samples = 1</text><text y="1.6">value = -0.551</text></g>
<g id="t3-n45" class="s" transform="translate(1068.5 332.9)"><use href="#sl"/><text y="-1.6">squared_error = 0.0</text><text y="0">samples = 1</text><text y="1.6">value = 0.912</text></g>
<g id="t3-n46" class="s" transform="translate(1093.2 332.9)"><use href="#sl"/><text y="-1.6">squared_error = 0.0</text><text y="0">samples = 1</text><text y="1.6">value = -1.252</text></g>
<g id="t3-n47" class="s" transform="translate(809.2 364.95)"><use href="#sl"/><text y="-1.6">squared_error = 0.0</text><text y="0">samples = 1</text><text y="1.6">value = 0.996</text></g>
<g id="t3-n48" class="s" transform="translate(834.5 364.95)"><use href="#sl"/><text y="-1.6">squared_error = 0.0</text><text y="0">samples = 1</text><text y="1.6">value = 0.912</text></g>
<g id="t3-n49" class="s" transform="translate(859.2 364.95)"><use href="#sl"/><text y="-1.6">squared_error = 0.0</text><text y="0">samples = 1</text><text y="1.6">value = 0.487</text></g>
<g id="t3-n50" class="s" transform="translate(884 364.95)"><use href="#sl"/><text y="-1.6">squared_error = 0.0</text><text y="0">samples = 1</text><text y="1.6">value = -0.347</text></g>
<g id="t3-n51" class="s" transform="translate(908.5 364.95)"><use href="#sl"/><text y="-1.6">squared_error = 0.0</text><text y="0">samples = 1</text><text y="1.6">value = 0.598</text></g>
<g id="t3-n52" class="s" transform="translate(932.8 364.95)"><use href="#sl"/><text y="-1.6">squared_error = 0.0</text><text y="0">samples = 1</text><text y="1.6">value = 0.314</text></g>
<g id="t3-n53" class="s" transform="translate(957.5 364.95)"><use href="#si"/><text y="-2.55">x[0] &lt;= -1.589</text><text y="-0.85">squared_error = 0.496</text><text y="0.85">samples = 3</text><text y="2.55">value = -0.648</text></g>
<g id="t3-n54" class="s" transform="translate(982.5 364.95)"><use href="#sl"/><text y="-1.6">squared_error = 0.0</text><text y="0">samples = 1</text><text y="1.6">value = 0.92</text></g>
<g id="t3-n55" class="s" transform="translate(945.2 397)"><use href="#sl"/><text y="-1.6">squared_error = 0.0</text><text y="0">samples = 1</text><text y="1.6">value = 0.343</text></g>
<g id="t3-n56" class="s" transform="translate(969.8 397)"><use href="#si"/><text y="-2.55">x[0] &lt;= -1.466</text><text y="-0.85">squared_error = 0.026</text><text y="0.85">samples = 2</text><text y="2.55">value = -1.144</text></g>
<g id="t3-n57" class="s" transform="translate(957.8 429.05)"><use href="#sl"/><text y="-1.6">squared_error = 0.0</text><text y="0">samples = 1</text><text y="1.6">value = -0.983</text></g>
<g id="t3-n58" class="s" transform="translate(982.5 429.05)"><use href="#sl"/><text y="-1.6">squared_error = 0.0</text><text y="0">samples = 1</text><text y="1.6">value = -1.305</text></g>
</g>
</svg>
